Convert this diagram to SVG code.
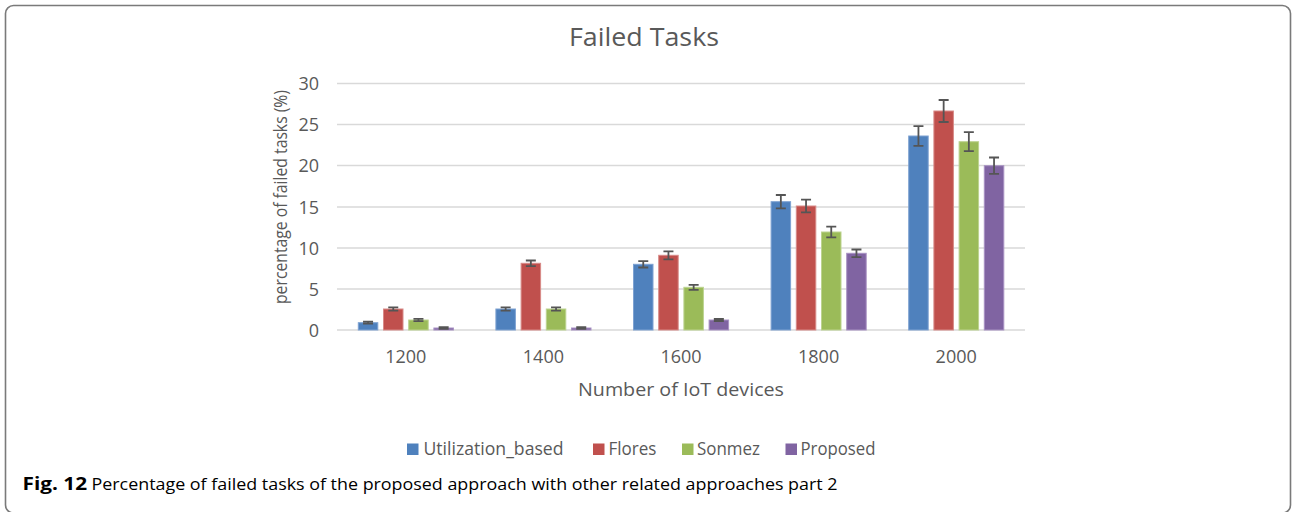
<svg xmlns="http://www.w3.org/2000/svg" width="1292" height="512" viewBox="0 0 1292 512">
  <style>
    .frame { fill: #ffffff; stroke: #7a7a7a; stroke-width: 1.6; }
    .grid { stroke: #d9d9d9; stroke-width: 1.5; fill: none; }
    .txt { font-family: "Open Sans", "DejaVu Sans", sans-serif; fill: #595959; }
    .tick { font-size: 18px; }
    .ytick { text-anchor: end; }
    .xtick { text-anchor: middle; }
    .s1 { fill: #4f81bd; stroke: #7ea2d2; stroke-width: 1; }
    .s2 { fill: #c0504d; stroke: #d88a88; stroke-width: 1; }
    .s3 { fill: #9bbb59; stroke: #bcd38f; stroke-width: 1; }
    .s4 { fill: #8064a2; stroke: #a892c3; stroke-width: 1; }
    .err { stroke: #555555; stroke-width: 1.8; fill: none; }
    .cap { font-family: "Open Sans", "Liberation Sans", sans-serif; fill: #000000; font-size: 17px; }
  </style>

  <!-- outer frame -->
  <rect class="frame" x="5.5" y="5.5" width="1285" height="507.5" rx="8"/>

  <!-- chart title -->
  <text class="txt" x="644" y="46" font-size="26" text-anchor="middle" textLength="150" lengthAdjust="spacingAndGlyphs">Failed Tasks</text>

  <!-- horizontal gridlines, 0..30 step 5 -->
  <g id="grid">
    <line class="grid" x1="337" y1="330" x2="1025" y2="330"/>
    <line class="grid" x1="337" y1="289" x2="1025" y2="289"/>
    <line class="grid" x1="337" y1="248" x2="1025" y2="248"/>
    <line class="grid" x1="337" y1="207" x2="1025" y2="207"/>
    <line class="grid" x1="337" y1="165.5" x2="1025" y2="165.5"/>
    <line class="grid" x1="337" y1="124.5" x2="1025" y2="124.5"/>
    <line class="grid" x1="337" y1="83.5" x2="1025" y2="83.5"/>
  </g>

  <!-- y axis -->
  <g id="y-axis" class="txt tick ytick">
    <text x="319" y="336.5">0</text>
    <text x="319" y="295.5">5</text>
    <text x="319" y="254.5">10</text>
    <text x="319" y="213.5">15</text>
    <text x="319" y="172">20</text>
    <text x="319" y="131">25</text>
    <text x="319" y="90">30</text>
  </g>
  <text class="txt" font-size="18" text-anchor="middle" transform="translate(287 197) rotate(-90)" textLength="214" lengthAdjust="spacingAndGlyphs">percentage of failed tasks (%)</text>

  <!-- category 1200 -->
  <g id="cat-1200">
    <rect class="s1" x="358.3" y="322.7" width="19.5" height="7.3"/>
    <rect class="s2" x="383.5" y="309" width="19.5" height="21"/>
    <rect class="s3" x="408.7" y="320" width="19.5" height="10"/>
    <rect class="s4" x="433.9" y="328" width="19.5" height="2"/>
    <path class="err" d="M368.05 321.7V323.7M363.05 321.7h10M363.05 323.7h10"/>
    <path class="err" d="M393.25 307.3V310.7M388.25 307.3h10M388.25 310.7h10"/>
    <path class="err" d="M418.45 318.8V321.2M413.45 318.8h10M413.45 321.2h10"/>
    <path class="err" d="M443.65 327.2V328.8M438.65 327.2h10M438.65 328.8h10"/>
  </g>

  <!-- category 1400 -->
  <g id="cat-1400">
    <rect class="s1" x="495.9" y="309" width="19.5" height="21"/>
    <rect class="s2" x="521.1" y="263.3" width="19.5" height="66.7"/>
    <rect class="s3" x="546.3" y="309" width="19.5" height="21"/>
    <rect class="s4" x="571.5" y="328" width="19.5" height="2"/>
    <path class="err" d="M505.65 307.3V310.7M500.65 307.3h10M500.65 310.7h10"/>
    <path class="err" d="M530.85 260.5V266.1M525.85 260.5h10M525.85 266.1h10"/>
    <path class="err" d="M556.05 307.3V310.7M551.05 307.3h10M551.05 310.7h10"/>
    <path class="err" d="M581.25 327.2V328.8M576.25 327.2h10M576.25 328.8h10"/>
  </g>

  <!-- category 1600 -->
  <g id="cat-1600">
    <rect class="s1" x="633.5" y="264.3" width="19.5" height="65.7"/>
    <rect class="s2" x="658.7" y="255.3" width="19.5" height="74.7"/>
    <rect class="s3" x="683.9" y="287.3" width="19.5" height="42.7"/>
    <rect class="s4" x="709.1" y="320" width="19.5" height="10"/>
    <path class="err" d="M643.25 261.1V267.5M638.25 261.1h10M638.25 267.5h10"/>
    <path class="err" d="M668.45 251.3V259.3M663.45 251.3h10M663.45 259.3h10"/>
    <path class="err" d="M693.65 284.8V289.8M688.65 284.8h10M688.65 289.8h10"/>
    <path class="err" d="M718.85 319V321M713.85 319h10M713.85 321h10"/>
  </g>

  <!-- category 1800 -->
  <g id="cat-1800">
    <rect class="s1" x="771.1" y="201.7" width="19.5" height="128.3"/>
    <rect class="s2" x="796.3" y="206" width="19.5" height="124"/>
    <rect class="s3" x="821.5" y="232" width="19.5" height="98"/>
    <rect class="s4" x="846.7" y="253.3" width="19.5" height="76.7"/>
    <path class="err" d="M780.85 195V208.4M775.85 195h10M775.85 208.4h10"/>
    <path class="err" d="M806.05 199.7V212.3M801.05 199.7h10M801.05 212.3h10"/>
    <path class="err" d="M831.25 226.7V237.3M826.25 226.7h10M826.25 237.3h10"/>
    <path class="err" d="M856.45 249.5V257.1M851.45 249.5h10M851.45 257.1h10"/>
  </g>

  <!-- category 2000 -->
  <g id="cat-2000">
    <rect class="s1" x="908.7" y="136" width="19.5" height="194"/>
    <rect class="s2" x="933.9" y="111" width="19.5" height="219"/>
    <rect class="s3" x="959.1" y="141.7" width="19.5" height="188.3"/>
    <rect class="s4" x="984.3" y="165.7" width="19.5" height="164.3"/>
    <path class="err" d="M918.45 126.2V145.8M913.45 126.2h10M913.45 145.8h10"/>
    <path class="err" d="M943.65 100V122M938.65 100h10M938.65 122h10"/>
    <path class="err" d="M968.85 132.2V151.2M963.85 132.2h10M963.85 151.2h10"/>
    <path class="err" d="M994.05 157.5V173.9M989.05 157.5h10M989.05 173.9h10"/>
  </g>

  <!-- x axis labels -->
  <g id="x-axis" class="txt tick xtick">
    <text x="405.8" y="363">1200</text>
    <text x="543.4" y="363">1400</text>
    <text x="681" y="363">1600</text>
    <text x="818.6" y="363">1800</text>
    <text x="956.2" y="363">2000</text>
  </g>
  <text class="txt" x="681" y="396" font-size="19" text-anchor="middle" textLength="206" lengthAdjust="spacingAndGlyphs">Number of IoT devices</text>

  <!-- legend -->
  <g id="legend" class="txt" font-size="18">
    <rect x="407" y="443.5" width="11.5" height="11.5" fill="#4f81bd"/>
    <text x="423.5" y="455" textLength="140" lengthAdjust="spacingAndGlyphs">Utilization_based</text>
    <rect x="593" y="443.5" width="11.5" height="11.5" fill="#c0504d"/>
    <text x="608.5" y="455" textLength="48" lengthAdjust="spacingAndGlyphs">Flores</text>
    <rect x="682" y="443.5" width="11.5" height="11.5" fill="#9bbb59"/>
    <text x="697" y="455" textLength="63" lengthAdjust="spacingAndGlyphs">Sonmez</text>
    <rect x="785.5" y="443.5" width="11.5" height="11.5" fill="#8064a2"/>
    <text x="800.5" y="455" textLength="75" lengthAdjust="spacingAndGlyphs">Proposed</text>
  </g>

  <!-- figure caption -->
  <g id="caption">
    <text class="cap" x="22.5" y="490" font-weight="bold" textLength="64.5" lengthAdjust="spacingAndGlyphs">Fig. 12</text>
    <text class="cap" x="91.5" y="490" textLength="746" lengthAdjust="spacingAndGlyphs">Percentage of failed tasks of the proposed approach with other related approaches part 2</text>
  </g>
</svg>
